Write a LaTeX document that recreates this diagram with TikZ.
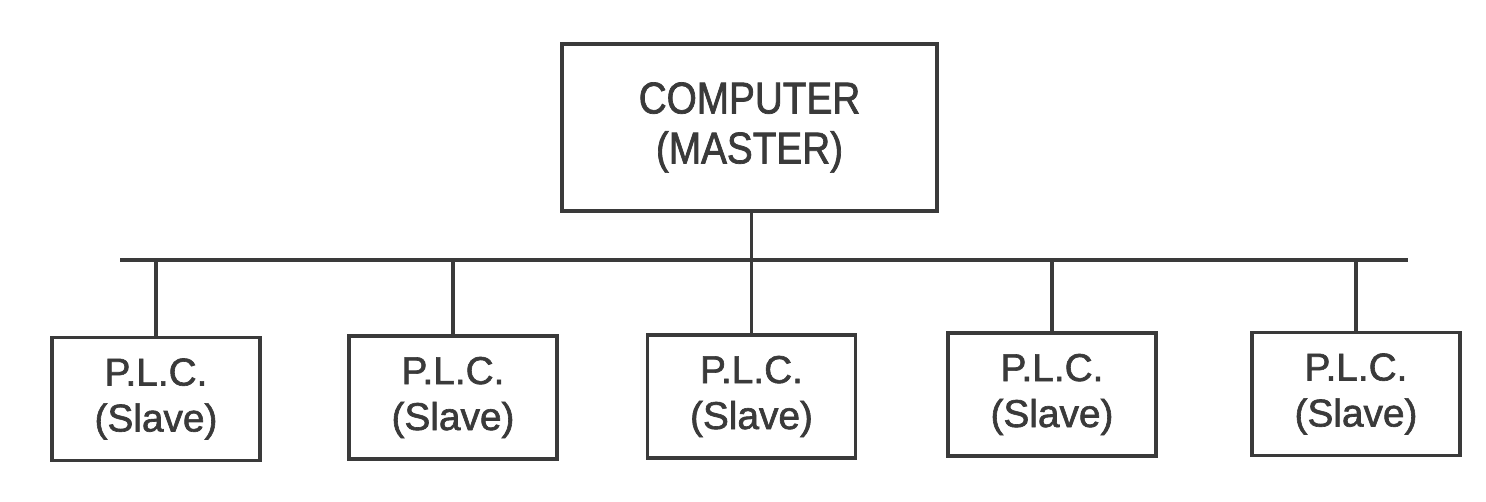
\documentclass[tikz,border=0pt]{standalone}
\usepackage{fontspec}
\setmainfont[FakeBold=1.6]{Liberation Sans}
\newfontfamily\masterfont[FakeStretch=0.87,FakeBold=1.6]{Liberation Sans}
\definecolor{ink}{HTML}{3A3A3A}
\begin{document}
\begin{tikzpicture}[x=1pt,y=1pt,
  box/.style={draw=ink, line width=3.3pt, text=ink, align=center, inner sep=0pt,
    font=\fontsize{38.8}{46}\selectfont},
  slavebox/.style={box, minimum width=208pt, minimum height=123pt},
  wire/.style={draw=ink, line width=3.3pt}]
\useasboundingbox (0,0) rectangle (1486,502);
\fill[white] (0,0) rectangle (1486,502);
\node[box, minimum width=375pt, minimum height=167pt, font=\masterfont\fontsize{44.5}{50}\selectfont] (m) at (749.5,374.5) {COMPUTER\\(MASTER)};
\node[slavebox] (s1) at (156,103) {P.L.C.\\(Slave)};
\node[slavebox] (s2) at (453,104.5) {P.L.C.\\(Slave)};
\node[slavebox] (s3) at (751.5,105.5) {P.L.C.\\(Slave)};
\node[slavebox] (s4) at (1052,107.5) {P.L.C.\\(Slave)};
\node[slavebox] (s5) at (1356,108) {P.L.C.\\(Slave)};
\coordinate (busL) at (120,242);
\coordinate (busR) at (1408,242);
\draw[wire] (busL) -- (busR);
\draw[wire] (m.south -| s3.north) -- (s3.north |- busL);
\foreach \i in {1,...,5} {
  \draw[wire] (s\i.north) -- (s\i.north |- busL);
}
\end{tikzpicture}
\end{document}
